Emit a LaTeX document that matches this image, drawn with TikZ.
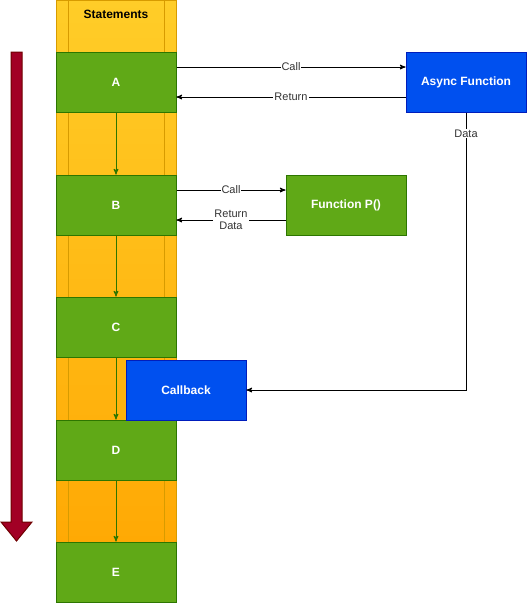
\documentclass[tikz,border=0pt]{standalone}
\usepackage{fontspec}
\setmainfont{Liberation Sans}
\usepackage{tikz}
\usetikzlibrary{arrows}
\usepackage{xcolor}
\definecolor{colfill top}{HTML}{FFCD28}
\definecolor{colfill bot}{HTML}{FFA500}
\definecolor{coledge}{HTML}{D79B00}
\definecolor{grfill}{HTML}{60A917}
\definecolor{gredge}{HTML}{2D7600}
\definecolor{blfill}{HTML}{0050EF}
\definecolor{bledge}{HTML}{001DBC}
\definecolor{rdfill}{HTML}{A20025}
\definecolor{rdedge}{HTML}{6F0000}

\begin{document}
\begin{tikzpicture}[x=1pt, y=-1pt, line width=1pt, >=stealth']
\useasboundingbox (0,0) rectangle (527,603);
% column of statements
\shade[top color=colfill top, bottom color=colfill bot] (56,0) rectangle (176,603);
\draw[coledge] (56,0.5) rectangle (176,602.5)
	(68,0.5) -- (68,602.5)
	(164,0.5) -- (164,602.5);
\node[font=\bfseries\fontsize{12}{14}\selectfont] (title) at (116,14) {Statements};
% time arrow
\draw[rdedge, fill=rdfill] (11,52) -- (22,52) -- (22,522) -- (32,522) -- (16.5,541)
	-- (1,522) -- (11,522) -- cycle;
\tikzstyle{stmt} = [rectangle, draw=gredge, fill=grfill, text=white, minimum width=120pt,
	minimum height=60pt, inner sep=0pt, font=\bfseries\fontsize{12}{14}\selectfont]
\tikzstyle{async} = [stmt, draw=bledge, fill=blfill]
\tikzstyle{lbl} = [fill=white, inner sep=1pt, text=black!80, align=center,
	font=\fontsize{11}{12}\selectfont]
\node[stmt] (A) at (116,82) {A};
\node[stmt] (B) at (116,205) {B};
\node[stmt] (C) at (116,327) {C};
\node[stmt] (D) at (116,450) {D};
\node[stmt] (E) at (116,572) {E};
\node[stmt] (P) at (346,205) {Function P()};
\node[async] (F) at (466,82) {Async Function};
\draw[->, gredge] (A) -- (B);
\draw[->, gredge] (B) -- (C);
\draw[->, gredge] (C) -- (D);
\draw[->, gredge] (D) -- (E);
\node[async] (cb) at (186,390) {Callback};
\draw[->] ([yshift=15pt]A.east) -- node[lbl] {Call} ([yshift=15pt]F.west);
\draw[->] ([yshift=-15pt]F.west) -- node[lbl] {Return} ([yshift=-15pt]A.east);
\draw[->] ([yshift=15pt]B.east) -- node[lbl] {Call} ([yshift=15pt]P.west);
\draw[->] ([yshift=-15pt]P.west) -- node[lbl] {Return\\Data} ([yshift=-15pt]B.east);
\draw[->] (F.south) -- node[lbl, pos=0.076] {Data} (F.south |- cb.east) -- (cb.east);
\end{tikzpicture}
\end{document}
